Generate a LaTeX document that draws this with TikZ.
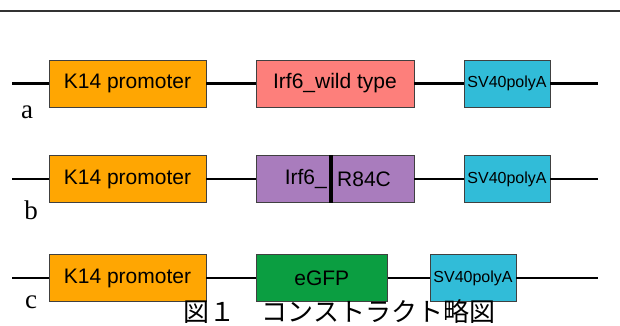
\documentclass[tikz,border=0pt]{standalone}
\usepackage{fontspec}
\setmainfont{Liberation Serif}
\newfontfamily\arialfont{Liberation Sans}
\newfontfamily\jpfont{Noto Sans CJK JP}
\usepackage{tikz}
\usetikzlibrary{positioning}
\definecolor{k14orange}{HTML}{FFA602}
\definecolor{wtsalmon}{HTML}{FD7F7B}
\definecolor{mutpurple}{HTML}{A97CBD}
\definecolor{polycyan}{HTML}{31BCD8}
\definecolor{gfpgreen}{HTML}{0B9E41}
\tikzset{
  cstnode/.style = {rectangle, inner sep=0pt, draw=black!75, line width=0.8pt,
    minimum height=47pt, text centered,
    font=\arialfont\fontsize{21pt}{24pt}\selectfont},
  cst_p/.style = {cstnode, fill=k14orange, minimum width=157pt},% promoter
  cst_w/.style = {cstnode, fill=wtsalmon, minimum width=158pt},% Irf6 sauvage
  cst_m/.style = {cstnode, fill=mutpurple, minimum width=158pt},% Irf6 mutant
  cst_g/.style = {cstnode, fill=gfpgreen, minimum width=131.5pt},% eGFP
  cst_s/.style = {cstnode, fill=polycyan, minimum width=86pt,
    font=\arialfont\fontsize{16pt}{18pt}\selectfont},% polyA
  dnaline/.style = {line width=2.6pt, black},
  mutbar/.style = {line width=4pt, black},
  rowlbl/.style = {font=\fontsize{27pt}{29pt}\selectfont},
  mutlbl/.style = {inner sep=0pt, font=\arialfont\fontsize{21pt}{24pt}\selectfont}
}

\begin{document}
\begin{tikzpicture}[x=1pt,y=-1pt]
        \useasboundingbox (0,0) rectangle (620,325);
        % filet du haut
        \coordinate (tl) at (0,11);
        \coordinate (tr) at (620,11);
        \draw [line width=2.4pt, black!80] (tl) -- (tr);
        % construction a
        \coordinate (a0) at (12,83.5);
        \coordinate (a1) at (598,83.5);
        \node [cst_p](aP) at (127.5,83.5){K14 promoter};
        \node [cst_w](aG) at (335,83.5){Irf6\_wild type};
        \node [cst_s](aS) at (507,83.5){SV40polyA};
        \draw [dnaline] (a0) -- (aP) -- (aG) -- (aS) -- (a1);
        \node [rowlbl](aL) at (27,112){a};
        % construction b
        \coordinate (b0) at (12,179);
        \coordinate (b1) at (598,179);
        \node [cst_p](bP) at (127.5,179){K14 promoter};
        \node [cst_m](bG) at (335,179){};
        \node [cst_s](bS) at (507,179){SV40polyA};
        \draw [dnaline] (b0) -- (bP) -- (bG) -- (bS) -- (b1);
        \draw [mutbar] ([xshift=75pt]bG.north west) -- ([xshift=75pt]bG.south west);
        \node [mutlbl, anchor=east](bG1) at (327,179){Irf6\_};
        \node [mutlbl, anchor=west](bG2) at (337,179){R84C};
        \node [rowlbl](bL) at (31,210){b};
        % construction c
        \coordinate (c0) at (12,278);
        \coordinate (c1) at (598,278);
        \node [cst_p](cP) at (127.5,278){K14 promoter};
        \node [cst_g](cG) at (321.75,278){eGFP};
        \node [cst_s](cS) at (473,278){SV40polyA};
        \draw [dnaline] (c0) -- (cP) -- (cG) -- (cS) -- (c1);
        \node [rowlbl](cL) at (31,302){c};
        % legende
        \node [anchor=base, inner sep=0pt, font=\jpfont\fontsize{26pt}{28pt}\selectfont](cap)
            at (339.5,321.5){図１　コンストラクト略図};
\end{tikzpicture}
\end{document}
